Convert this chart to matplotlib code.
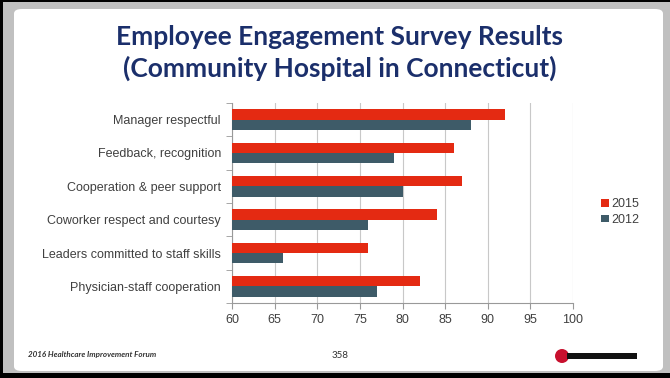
import matplotlib

matplotlib.use("Agg")
import matplotlib.pyplot as plt
from matplotlib.patches import FancyBboxPatch, Rectangle, Ellipse
import numpy as np

categories = [
    "Manager respectful",
    "Feedback, recognition",
    "Cooperation & peer support",
    "Coworker respect and courtesy",
    "Leaders committed to staff skills",
    "Physician-staff cooperation",
]
scores_2015 = [92, 86, 87, 84, 76, 82]
scores_2012 = [88, 79, 80, 76, 66, 77]
x_ticks = [60, 65, 70, 75, 80, 85, 90, 95, 100]

RED = "#e42a12"
SLATE = "#3e5b68"
NAVY = "#1b2f6b"
GREY_TXT = "#404040"

W, H = 670, 378
fig = plt.figure(figsize=(W / 100, H / 100), dpi=100)
fig.patch.set_facecolor("black")

# slide frame
fig.patches.append(Rectangle((3 / W, 5 / H), 667 / W, 371 / H, transform=fig.transFigure,
                             facecolor="#c0c0c0", edgecolor="none", zorder=-2))
fig.patches.append(FancyBboxPatch((14 / W, 7 / H), 649 / W, 362 / H,
                                  boxstyle="round,pad=0,rounding_size=0.012",
                                  transform=fig.transFigure, facecolor="white",
                                  edgecolor="none", zorder=-1))

fig.text(340 / W, 1 - 37 / H, "Employee Engagement Survey Results", ha="center", va="center",
         fontsize=19, fontweight="bold", color=NAVY, family="Lato")
fig.text(340 / W, 1 - 68 / H, "(Community Hospital in Connecticut)", ha="center", va="center",
         fontsize=19, fontweight="bold", color=NAVY, family="Lato")

ax = fig.add_axes([232 / W, 1 - 303 / H, (573 - 232) / W, (303 - 103) / H])
ax.set_zorder(5)
ax.set_facecolor("white")

y = np.arange(len(categories))
bh = 0.31
ax.barh(y - bh / 2, np.array(scores_2015) - 60, left=60, height=bh, color=RED, label="2015", zorder=3)
ax.barh(y + bh / 2, np.array(scores_2012) - 60, left=60, height=bh, color=SLATE, label="2012", zorder=3)

ax.set_xlim(60, 100)
ax.set_ylim(len(categories) - 0.5, -0.5)
ax.set_xticks(x_ticks)
ax.set_xticklabels([str(t) for t in x_ticks], fontsize=9, color=GREY_TXT, family="Liberation Sans")
ax.set_yticks(y)
ax.set_yticklabels(categories, fontsize=9, color=GREY_TXT, family="Liberation Sans")
ax.set_yticks(np.arange(len(categories) + 1) - 0.5, minor=True)
ax.tick_params(axis="y", which="major", length=0, pad=8)
ax.tick_params(axis="y", which="minor", length=4, color="#999999", direction="out")
ax.tick_params(axis="x", length=4, color="#999999", pad=4)
ax.grid(axis="x", color="#c8c8c8", linewidth=0.8, zorder=0)
for s in ("top", "right"):
    ax.spines[s].set_visible(False)
for s in ("left", "bottom"):
    ax.spines[s].set_color("#999999")
    ax.spines[s].set_linewidth(0.8)

handles, labels = ax.get_legend_handles_labels()
leg = fig.legend(handles, labels, loc="center left", bbox_to_anchor=(590 / W, 1 - 212 / H),
                 frameon=False, handlelength=0.6, handleheight=0.6,
                 handletextpad=0.2, labelspacing=0.3, prop={"family": "Liberation Sans", "size": 9})
for t in leg.get_texts():
    t.set_color(GREY_TXT)

# footer
fig.text(28 / W, 1 - 355 / H, "2016 Healthcare Improvement Forum", ha="left", va="center",
         fontsize=5.8, style="italic", fontweight="bold", color="#333333", family="Lato")
fig.text(340 / W, 1 - 356 / H, "358", ha="center", va="center", fontsize=7, color="#333333",
         family="Lato")
# logo approximation
fig.patches.append(Ellipse((562 / W, 1 - 356 / H), 14 / W, 14 / H, transform=fig.transFigure,
                           facecolor="#c8102e", edgecolor="none"))
fig.patches.append(Rectangle((567 / W, 1 - 359 / H), 70 / W, 6 / H, transform=fig.transFigure,
                             facecolor="#111111", edgecolor="none"))

fig.savefig("out.png", dpi=100, facecolor=fig.get_facecolor())
